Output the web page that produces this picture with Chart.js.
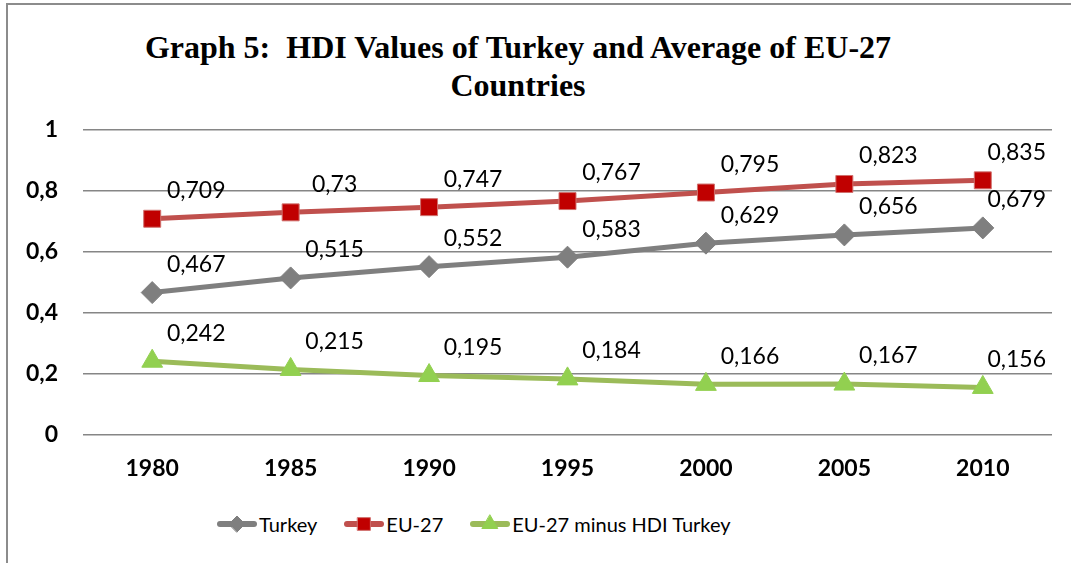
<!DOCTYPE html>
<html>
<head>
<meta charset="utf-8">
<script src="https://cdn.jsdelivr.net/npm/chart.js@4"></script>
<style>
  body { margin: 0; background: #fff; }
  #wrap { position: relative; width: 1071px; height: 563px; overflow: hidden; }
  #frame { position: absolute; left: 6px; top: 3px; width: 1100px; height: 600px;
           border: 2px solid #8c8c8c; }
  #title { position: absolute; left: 0; top: 28px; width: 1036px; text-align: center;
           font: bold 32px "Liberation Serif", serif; line-height: 38px; color: #000; }
  #chart { position: absolute; left: 0; top: 0; }
  #legend { position: absolute; left: 217px; top: 511px; display: flex; align-items: center;
            font: 20px Lato, sans-serif; color: #000; }
  .item { display: flex; align-items: center; margin-right: 27px; }
  .item canvas { margin-right: 2px; }
</style>
</head>
<body>
<div id="wrap">
  <div id="frame"></div>
  <div id="title">Graph 5:&nbsp; HDI Values of Turkey and Average of EU-27<br>Countries</div>
  <canvas id="chart" width="1071" height="500"></canvas>
  <div id="legend"></div>
</div>
<script>
const years = ['1980', '1985', '1990', '1995', '2000', '2005', '2010'];
const turkey = [0.467, 0.515, 0.552, 0.583, 0.629, 0.656, 0.679];
const eu27 = [0.709, 0.73, 0.747, 0.767, 0.795, 0.823, 0.835];
const gap = [0.242, 0.215, 0.195, 0.184, 0.166, 0.167, 0.156];
const yTicks = [0, 0.2, 0.4, 0.6, 0.8, 1];

const seriesNames = ['Turkey', 'EU-27', 'EU-27 minus HDI Turkey'];

// Excel style decimal comma
function fmt(v) {
  return String(v).replace('.', ',');
}

const styles = [
  {line: '#7f7f7f', fill: '#7f7f7f', border: '#7f7f7f', point: 'rectRot', radius: 11, legendRadius: 8},
  {line: '#c0504d', fill: '#c00000', border: '#d0706d', point: 'rect', radius: 12, legendRadius: 9},
  {line: '#9bbb59', fill: '#92d050', border: '#92d050', point: 'triangle', radius: 12, legendRadius: 9},
];

const datasets = [turkey, eu27, gap].map((values, i) => ({
  label: seriesNames[i],
  data: values,
  borderColor: styles[i].line,
  borderWidth: 5,
  pointStyle: styles[i].point,
  pointRadius: styles[i].radius,
  pointHoverRadius: styles[i].radius,
  pointBackgroundColor: styles[i].fill,
  pointBorderColor: styles[i].border,
  pointBorderWidth: 1,
  tension: 0,
}));

// value labels, up and to the right of each point, kept inside the chart
const valueLabels = {
  id: 'valueLabels',
  afterDatasetsDraw(chart) {
    const c = chart.ctx;
    const maxRight = chart.chartArea.right - 6;
    c.save();
    c.font = '23px Lato, sans-serif';
    c.fillStyle = '#000';
    c.textAlign = 'center';
    c.textBaseline = 'middle';
    chart.data.datasets.forEach((ds, i) => {
      chart.getDatasetMeta(i).data.forEach((pt, j) => {
        const text = fmt(ds.data[j]);
        const w = c.measureText(text).width;
        const x = Math.min(pt.x + 44, maxRight - w / 2);
        c.fillText(text, x, pt.y - 28);
      });
    });
    c.restore();
  }
};

const ctx = document.getElementById('chart').getContext('2d');

const chart = new Chart(ctx, {
  type: 'line',
  data: {labels: years, datasets: datasets},
  plugins: [valueLabels],
  options: {
    responsive: false,
    animation: false,
    layout: {padding: {top: 130, right: 19, bottom: 5, left: 0}},
    plugins: {
      legend: {display: false},
      tooltip: {enabled: false},
    },
    scales: {
      x: {
        offset: true,
        grid: {display: false},
        border: {display: false},
        ticks: {color: '#000', font: {family: 'Lato', size: 23, weight: 'bold'}, padding: 12},
        afterFit(scale) { scale.height = 60; },
      },
      y: {
        min: 0,
        max: 1,
        afterBuildTicks(scale) { scale.ticks = yTicks.map(v => ({value: v})); },
        grid: {color: '#868686', lineWidth: 1.5, drawTicks: false},
        border: {display: false},
        ticks: {
          color: '#000',
          font: {family: 'Lato', size: 23, weight: 'bold'},
          padding: 25,
          callback: v => fmt(v),
        },
        afterFit(scale) { scale.width = 83; },
      },
    },
  },
});

// legend built as html: line with the marker in the middle, then the name
function addLegendItem(i) {
  const item = document.createElement('div');
  item.className = 'item';
  const icon = document.createElement('canvas');
  icon.width = 40;
  icon.height = 26;
  const ic = icon.getContext('2d');
  ic.strokeStyle = styles[i].line;
  ic.lineWidth = 6;
  ic.lineCap = 'round';
  ic.beginPath();
  ic.moveTo(3, 13);
  ic.lineTo(37, 13);
  ic.stroke();
  ic.fillStyle = styles[i].fill;
  ic.strokeStyle = styles[i].border;
  ic.lineWidth = 1;
  Chart.helpers.drawPoint(ic, {
    pointStyle: styles[i].point,
    radius: styles[i].legendRadius,
    rotation: 0,
    borderWidth: 1,
  }, 20, 13);
  const label = document.createElement('span');
  label.innerText = seriesNames[i];
  item.appendChild(icon);
  item.appendChild(label);
  document.getElementById('legend').appendChild(item);
}

seriesNames.forEach((n, i) => addLegendItem(i));
</script>
</body>
</html>
